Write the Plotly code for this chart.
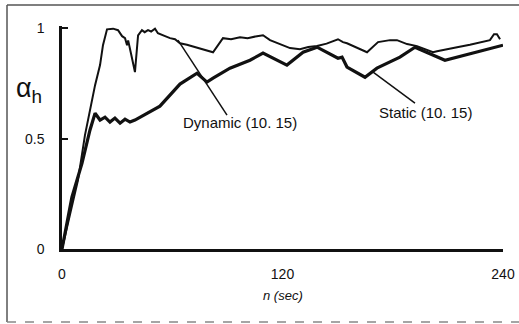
import plotly.graph_objects as go

# Time axis (sec) and alpha_h values
dyn_t = [0, 4.4, 8.7, 12.5, 15.2, 18.0, 20.7, 22.3, 24.5, 27.8, 30.5, 32.7, 34.3, 35.4,
         36.0, 37.0, 38.1, 39.7, 41.4, 43.5, 45.0, 46.8, 48.5, 50.6, 52.2, 56.1, 58.8,
         61.5, 64.2, 68.0, 72.4, 77.0, 82.2, 87.6, 92.0, 96.9, 101.0, 106.1, 109.4, 113.2,
         118.0, 124.1, 129.5, 134.0, 138.8, 144.0, 150.2, 152.9, 155.1, 160.0, 166.0,
         172.0, 178.5, 182.3, 187.8, 193.2, 197.5, 201.9, 204.1, 209.0, 215.0, 222.0,
         229.1, 232.9, 235.1, 236.7, 238.4]
dyn_a = [0, 0.154, 0.312, 0.516, 0.629, 0.742, 0.833, 0.923, 0.995, 0.998, 0.991, 0.964,
         0.955, 0.923, 0.945, 0.900, 0.864, 0.801, 0.968, 0.991, 0.982, 0.991, 0.985, 0.998,
         0.977, 0.964, 0.955, 0.950, 0.932, 0.925, 0.914, 0.905, 0.891, 0.955, 0.950,
         0.959, 0.955, 0.964, 0.968, 0.946, 0.930, 0.910, 0.905, 0.915, 0.919, 0.930,
         0.950, 0.937, 0.932, 0.915, 0.891, 0.937, 0.946, 0.946, 0.928, 0.919, 0.905,
         0.891, 0.896, 0.905, 0.914, 0.925, 0.937, 0.946, 0.973, 0.973, 0.950]

sta_t = [0, 5.4, 10.9, 15.2, 18.0, 20.7, 23.4, 26.1, 28.8, 31.6, 34.3, 37.0, 39.7, 42.4,
         44.1, 53.3, 64.2, 73.5, 78.9, 82.2, 91.4, 102.3, 109.4, 122.4, 131.2, 138.8,
         150.2, 152.4, 155.1, 164.9, 171.4, 183.9, 192.1, 208.4, 240.0]
sta_a = [0, 0.235, 0.389, 0.538, 0.615, 0.584, 0.597, 0.575, 0.593, 0.570, 0.588, 0.575,
         0.584, 0.597, 0.606, 0.647, 0.747, 0.796, 0.756, 0.774, 0.819, 0.855, 0.887,
         0.833, 0.891, 0.914, 0.864, 0.869, 0.824, 0.778, 0.819, 0.869, 0.914, 0.855,
         0.923]

x_ticks = [0, 120, 240]
y_ticks = [0, 0.5, 1]
y_tick_text = ["0", "0.5", "1"]

FONT = "Liberation Sans, Arial, sans-serif"

fig = go.Figure()
fig.add_trace(go.Scatter(x=dyn_t, y=dyn_a, mode="lines", name="Dynamic (10. 15)",
                         line=dict(color="#111111", width=2)))
fig.add_trace(go.Scatter(x=sta_t, y=sta_a, mode="lines", name="Static (10. 15)",
                         line=dict(color="#111111", width=3.2)))

# leader lines for labels
fig.add_shape(type="line", xref="x", yref="y", x0=63.1, y0=0.946, x1=89.8, y1=0.606,
              line=dict(color="#111111", width=1.5))
fig.add_shape(type="line", xref="x", yref="y", x0=169.3, y0=0.801, x1=192.1, y1=0.661,
              line=dict(color="#111111", width=1.5))

fig.add_annotation(x=97.1, y=0.575, xref="x", yref="y", text="Dynamic (10. 15)",
                   showarrow=False, font=dict(family=FONT, size=15, color="#111111"))
fig.add_annotation(x=197.6, y=0.62, xref="x", yref="y", text="Static (10. 15)",
                   showarrow=False, font=dict(family=FONT, size=15, color="#111111"))

# y axis title alpha_h
fig.add_annotation(x=-0.04, y=0.80, xref="paper", yref="paper", xanchor="right",
                   text="α<sub>h</sub>", showarrow=False,
                   font=dict(family=FONT, size=27, color="#111111"))
# x axis title
fig.add_annotation(x=0.501, y=-0.25, xref="paper", yref="paper", text="<i>n (sec)</i>",
                   showarrow=False, font=dict(family=FONT, size=13, color="#111111"))

# outer scanned frame
frame = dict(color="#555555", width=1.5)
fig.add_shape(type="line", xref="paper", yref="paper", x0=-0.1247, y0=1.094, x1=1.04, y1=1.094,
              line=frame)
fig.add_shape(type="line", xref="paper", yref="paper", x0=-0.1247, y0=1.094, x1=-0.1247, y1=-0.327,
              line=frame)
fig.add_shape(type="line", xref="paper", yref="paper", x0=-0.1247, y0=-0.327, x1=1.04, y1=-0.327,
              line=dict(color="#888888", width=1.5, dash="dash"))

fig.update_layout(
    width=519, height=324,
    margin=dict(l=62, r=16, t=26, b=75),
    paper_bgcolor="white", plot_bgcolor="white",
    showlegend=False,
    font=dict(family=FONT, size=14, color="#111111"),
    xaxis=dict(range=[0, 240], tickvals=x_ticks, showgrid=False, zeroline=False,
               showline=True, linecolor="#111111", linewidth=2.5, ticks="",
               ticklabelstandoff=10, tickfont=dict(size=14), automargin=False),
    yaxis=dict(range=[0, 1.01], tickvals=y_ticks, ticktext=y_tick_text, showgrid=False,
               zeroline=False, showline=True, linecolor="#111111", linewidth=2.5,
               ticks="inside", ticklen=6, tickwidth=2, tickcolor="#111111",
               ticklabelstandoff=12, tickfont=dict(size=14), automargin=False),
)

fig.write_html("out.html", config={"displayModeBar": False})

# remove the default page margin so the figure sits at the window's corner
with open("out.html", encoding="utf-8") as f:
    html = f.read()
html = html.replace("<head>", "<head><style>html,body{margin:0;padding:0;overflow:hidden;}</style>", 1)
with open("out.html", "w", encoding="utf-8") as f:
    f.write(html)
